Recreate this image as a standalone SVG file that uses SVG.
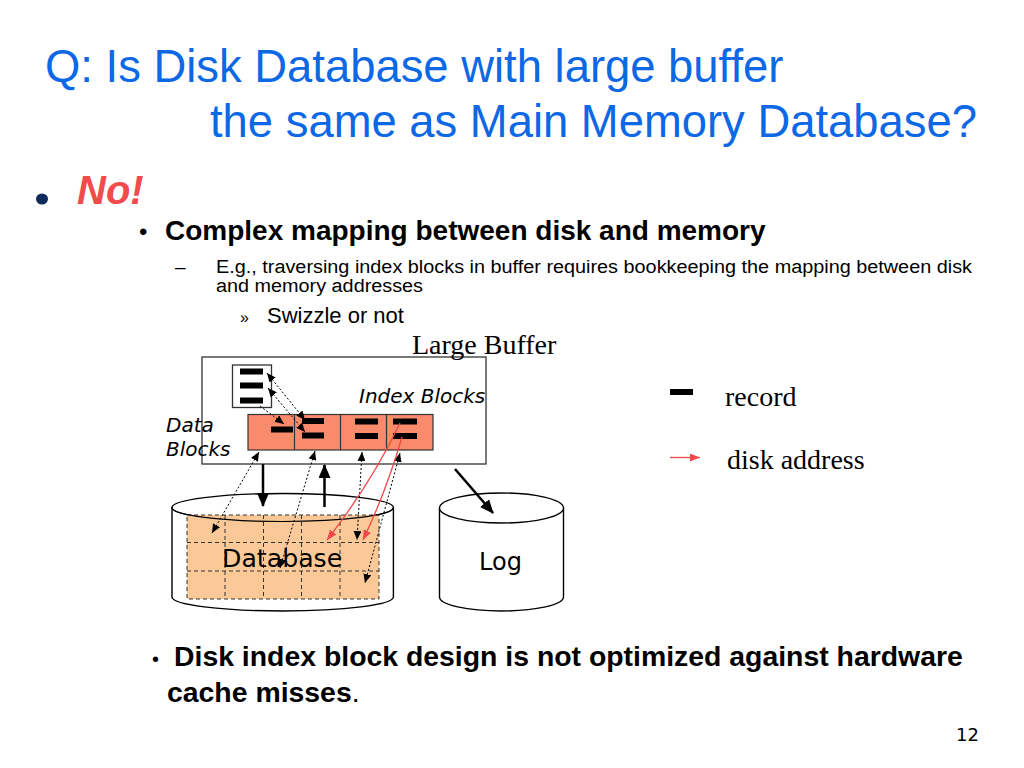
<svg xmlns="http://www.w3.org/2000/svg" width="1024" height="768" viewBox="0 0 1024 768">
<style>
.title{font-family:"Liberation Sans",Arial,sans-serif;font-size:45.4px;fill:#0d68e6}
.sans{font-family:"Liberation Sans",Arial,sans-serif;fill:#000}
.serif{font-family:"Liberation Serif","Times New Roman",serif;font-size:28px;fill:#000}
.dv{font-family:"DejaVu Sans",Verdana,sans-serif;fill:#000}
.ital{font-family:"DejaVu Sans",Verdana,sans-serif;font-style:italic;font-size:20px;fill:#000}
.rec{fill:#000}
.box{fill:#fff;stroke:#333;stroke-width:1.3}
.cyl{fill:#fff;stroke:#000;stroke-width:1.4}
.solid{stroke:#000;stroke-width:2.5;fill:none}
.dot{stroke:#000;stroke-width:1;stroke-dasharray:2 2;fill:none}
.red{stroke:#f04848;stroke-width:1.3;fill:none}
.grid{stroke:#333;stroke-width:1;stroke-dasharray:4 3;fill:none}
</style>
<defs>
<marker id="ah" markerUnits="userSpaceOnUse" markerWidth="14" markerHeight="12" refX="13" refY="6" orient="auto"><path d="M0,0 L14,6 L0,12 Z" fill="#000"/></marker>
<marker id="dh" markerUnits="userSpaceOnUse" markerWidth="9" markerHeight="8" refX="9" refY="4" orient="auto-start-reverse"><path d="M0,0 L9,4 L0,8 Z" fill="#000"/></marker>
<marker id="rh" markerUnits="userSpaceOnUse" markerWidth="10" markerHeight="8" refX="10" refY="4" orient="auto"><path d="M0,0 L10,4 L0,8 Z" fill="#f04848"/></marker>
</defs>
<rect width="1024" height="768" fill="#fff"/>

<g id="text">
<text class="title" x="45" y="82">Q: Is Disk Database with large buffer</text>
<text class="title" x="210" y="137">the same as Main Memory Database?</text>
<ellipse cx="42" cy="199" rx="6" ry="5.5" fill="#0d2a5c"/>
<text class="sans" x="77" y="204" font-size="40" font-weight="bold" font-style="italic" style="fill:#f24b4b">No!</text>
<text class="sans" x="139" y="240" font-size="24">•</text>
<text class="sans" x="165" y="240" font-size="28" font-weight="bold">Complex mapping between disk and memory</text>
<text class="sans" x="175" y="273" font-size="19">–</text>
<text class="sans" x="216" y="273" font-size="18" textLength="756" lengthAdjust="spacingAndGlyphs">E.g., traversing index blocks in buffer requires bookkeeping the mapping between disk</text>
<text class="sans" x="216" y="292" font-size="18" textLength="207" lengthAdjust="spacingAndGlyphs">and memory addresses</text>
<text class="sans" x="240" y="323" font-size="16">»</text>
<text class="sans" x="267" y="323" font-size="22">Swizzle or not</text>
<text class="sans" x="152" y="666" font-size="20">•</text>
<text class="sans" x="174" y="666" font-size="28.4" font-weight="bold">Disk index block design is not optimized against hardware</text>
<text class="sans" x="167" y="702" font-size="28.4"><tspan font-weight="bold">cache misses</tspan>.</text>
<text class="dv" x="956" y="741" font-size="18">12</text>
</g>

<g id="legend">
<rect class="rec" x="670" y="389" width="23" height="6"/>
<text class="serif" x="725" y="406">record</text>
<line class="red" x1="670" y1="457.5" x2="700" y2="457.5" marker-end="url(#rh)"/>
<text class="serif" x="727" y="469">disk address</text>
</g>

<g id="large-buffer">
<rect class="box" x="202" y="357" width="284" height="107"/>
<text class="serif" x="412" y="354">Large Buffer</text>
<text class="ital" x="359" y="403">Index Blocks</text>
<text class="ital" x="166" y="432">Data</text>
<text class="ital" x="166" y="456">Blocks</text>
</g>

<g id="data-block">
<rect class="box" x="232.5" y="365" width="39" height="42.5"/>
<rect class="rec" x="240" y="368.5" width="23" height="6"/>
<rect class="rec" x="240" y="382.5" width="23" height="6"/>
<rect class="rec" x="240" y="397.5" width="23" height="6"/>
</g>

<g id="index-blocks">
<rect x="248" y="414.5" width="185" height="35.5" fill="#f98b6c" stroke="#333" stroke-width="1.2"/>
<line x1="294.5" y1="414.5" x2="294.5" y2="450" stroke="#333" stroke-width="1.2"/>
<line x1="340.5" y1="414.5" x2="340.5" y2="450" stroke="#333" stroke-width="1.2"/>
<line x1="386.5" y1="414.5" x2="386.5" y2="450" stroke="#333" stroke-width="1.2"/>
<rect class="rec" x="271" y="426.5" width="22" height="6"/>
<rect class="rec" x="302" y="418" width="22" height="6"/>
<rect class="rec" x="302" y="432.5" width="22" height="6"/>
<rect class="rec" x="355" y="418.5" width="23" height="6"/>
<rect class="rec" x="355" y="433" width="23" height="6"/>
<rect class="rec" x="393" y="418.5" width="24" height="6"/>
<rect class="rec" x="393" y="433" width="24" height="6"/>
</g>

<g id="database">
<path class="cyl" d="M172,507.5 L172,597 A110.7,14 0 0 0 393.4,597 L393.4,507.5"/>
<ellipse class="cyl" cx="282.7" cy="507.5" rx="110.7" ry="14"/>
<rect x="187" y="515" width="192" height="84" fill="#fbc898"/>
<rect class="grid" x="187" y="515" width="192" height="84"/>
<line class="grid" x1="225" y1="515" x2="225" y2="599"/>
<line class="grid" x1="263.5" y1="515" x2="263.5" y2="599"/>
<line class="grid" x1="301.5" y1="515" x2="301.5" y2="599"/>
<line class="grid" x1="340" y1="515" x2="340" y2="599"/>
<line class="grid" x1="187" y1="542.5" x2="379" y2="542.5"/>
<line class="grid" x1="187" y1="571" x2="379" y2="571"/>
<path d="M172,507.5 A110.7,14 0 0 0 393.4,507.5" fill="none" stroke="#000" stroke-width="1.2"/>
<text class="dv" x="222" y="567" font-size="25.2">Database</text>
</g>

<g id="log">
<path class="cyl" d="M439.5,508 L439.5,597 A62,14 0 0 0 563.5,597 L563.5,508"/>
<ellipse class="cyl" cx="501.5" cy="508" rx="62" ry="15"/>
<text class="dv" x="479" y="570" font-size="24">Log</text>
</g>

<g id="connectors">
<line class="solid" x1="263" y1="464" x2="263" y2="506" marker-end="url(#ah)"/>
<line class="solid" x1="324.5" y1="507" x2="324.5" y2="465" marker-end="url(#ah)"/>
<line class="solid" x1="455" y1="469" x2="493" y2="513" marker-end="url(#ah)"/>
<line class="dot" x1="260" y1="406" x2="284" y2="424" marker-end="url(#dh)"/>
<line class="dot" x1="267" y1="373" x2="305" y2="420" marker-start="url(#dh)" marker-end="url(#dh)"/>
<line class="dot" x1="268" y1="388" x2="305" y2="432" marker-start="url(#dh)" marker-end="url(#dh)"/>
<line class="dot" x1="259" y1="452" x2="212" y2="533" marker-start="url(#dh)" marker-end="url(#dh)"/>
<line class="dot" x1="315" y1="451" x2="280" y2="568" marker-start="url(#dh)" marker-end="url(#dh)"/>
<line class="dot" x1="362" y1="452" x2="357" y2="540" marker-start="url(#dh)" marker-end="url(#dh)"/>
<line class="dot" x1="400" y1="453" x2="365" y2="583" marker-start="url(#dh)" marker-end="url(#dh)"/>
<path class="red" d="M400,423 Q372,482 327,540" marker-end="url(#rh)"/>
<path class="red" d="M402,437 Q386,492 363,540" marker-end="url(#rh)"/>
</g>
</svg>
